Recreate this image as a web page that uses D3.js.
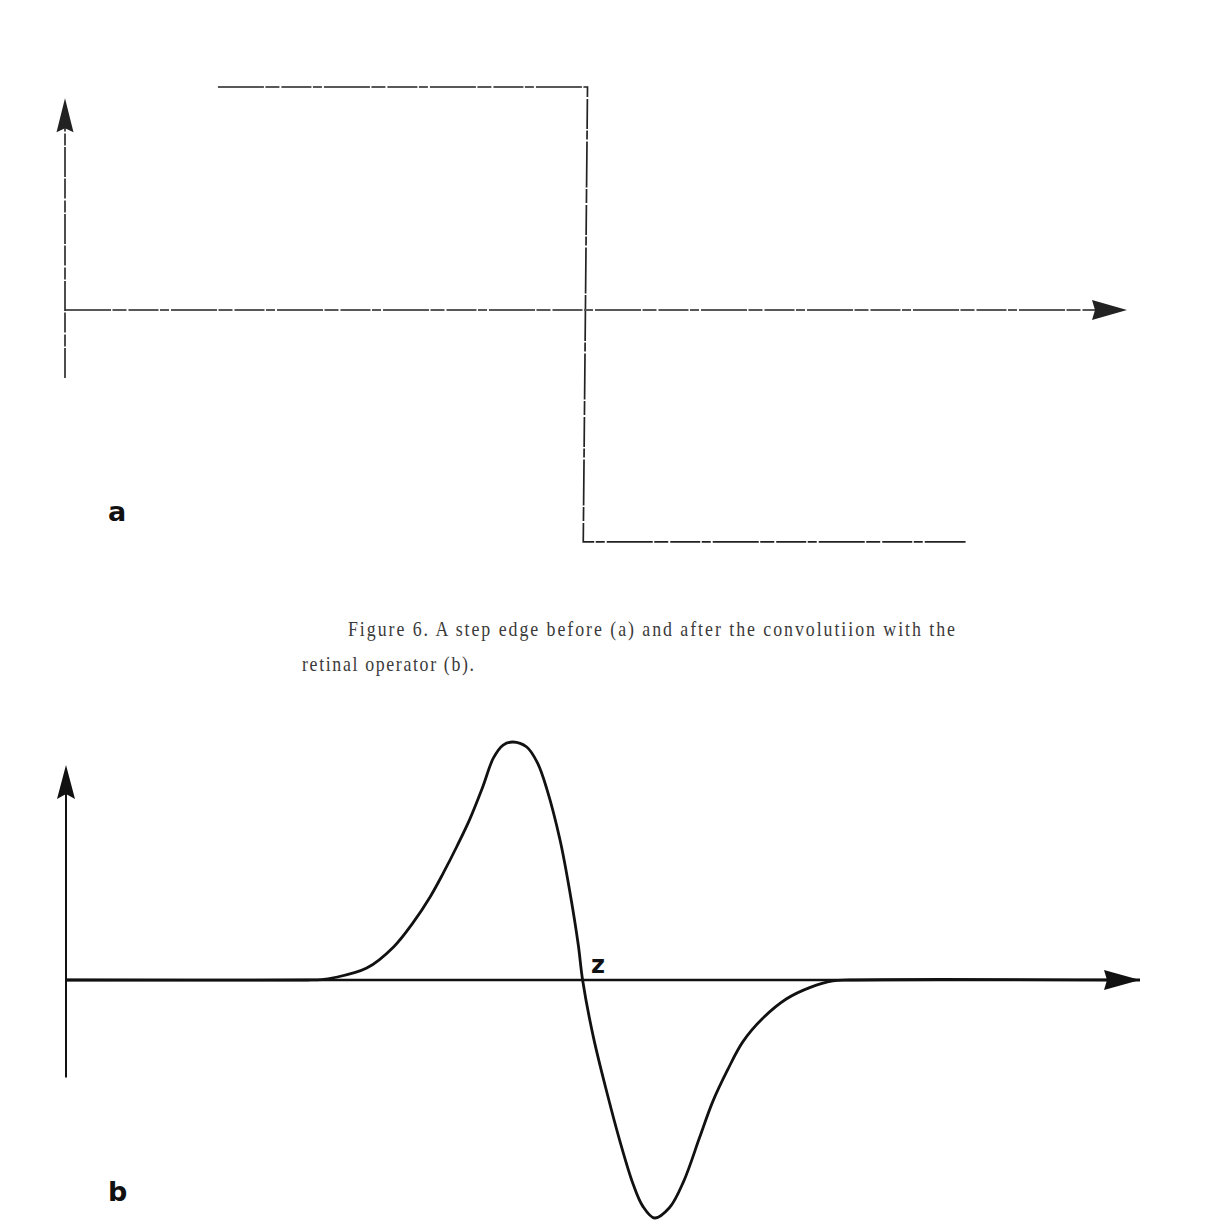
<!DOCTYPE html>
<html>
<head>
<meta charset="utf-8">
<script src="https://cdn.jsdelivr.net/npm/d3@7"></script>
<style>
  html, body { margin: 0; padding: 0; background: #fff; }
  svg { display: block; }
</style>
</head>
<body>
<div id="chart"></div>
<script>
// Panel (a): ideal step edge, described as (position, level) corners.
const stepX = [14.4, 49.2, 48.8, 84.8];
const stepY = [1.0, 1.0, -1.04, -1.04];

// Panel (b): response of the retinal operator to the step edge.
const respX = [0, 22.5, 23.8, 24.9, 28.0, 30.5, 32.3, 33.9, 35.1, 36.4, 37.6, 38.8, 39.8,
               40.7, 41.6, 42.9, 43.9, 44.8, 46.0, 46.9, 47.7, 48.1, 49.1, 50.4, 51.6,
               52.8, 53.7, 54.8, 56.2, 57.5, 59.0, 60.2, 61.6, 63.0, 64.9, 67.1, 69.3,
               71.4, 73.0, 100];
const respY = [0, 0, 0.002, 0.009, 0.05, 0.139, 0.24, 0.349, 0.447, 0.562, 0.676, 0.811, 0.933,
               0.987, 1.0, 0.979, 0.912, 0.798, 0.588, 0.374, 0.147, 0, -0.239, -0.479, -0.681,
               -0.857, -0.95, -1.0, -0.956, -0.847, -0.661, -0.513, -0.378, -0.261, -0.16,
               -0.079, -0.031, -0.004, 0, 0];

const captionLines = [
  "Figure 6. A step edge before (a) and after the convolutiion with the",
  "retinal operator (b)."
];
const panelLabels = ["a", "b"];
const zeroCrossingLabel = "z";

const W = 1229, H = 1232;
const svg = d3.select("#chart").append("svg")
  .attr("width", W).attr("height", H)
  .attr("viewBox", `0 0 ${W} ${H}`);

svg.append("rect").attr("width", W).attr("height", H).attr("fill", "#fff");

// Barbed arrowhead pointing up or right, with a shallow notch at its base
function arrowHead(g, tipX, tipY, dir, len, half, notch, color) {
  let pts;
  if (dir === "up") {
    pts = [[tipX, tipY], [tipX + half, tipY + len], [tipX, tipY + len - notch], [tipX - half, tipY + len]];
  } else {
    pts = [[tipX, tipY], [tipX - len, tipY + half], [tipX - len + notch, tipY], [tipX - len, tipY - half]];
  }
  g.append("path").attr("d", d3.line()(pts) + "Z").attr("fill", color);
}

// ---------- Panel a ----------
const ax = d3.scaleLinear().domain([0, 100]).range([65, 1127]);
const ay = d3.scaleLinear().domain([0, 1]).range([310, 87]);
const ga = svg.append("g");
const aColor = "#222";
const aDash = "46,1.5,14,2,30,1.5,9,2";

// axes
ga.append("line").attr("x1", ax(0)).attr("x2", ax(100) - 28)
  .attr("y1", ay(0)).attr("y2", ay(0))
  .attr("stroke", aColor).attr("stroke-width", 1.7).attr("stroke-dasharray", aDash);
ga.append("line").attr("x1", ax(0)).attr("x2", ax(0))
  .attr("y1", ay(-0.305)).attr("y2", ay(0.85))
  .attr("stroke", aColor).attr("stroke-width", 1.6).attr("stroke-dasharray", "30,1.5,12,2,20,1.5");
arrowHead(ga, ax(100), ay(0), "right", 35, 10, 3, aColor);
arrowHead(ga, ax(0), ay(0.95), "up", 34, 8.5, 4, aColor);

// step edge
ga.append("path")
  .datum(stepX.map((x, i) => [x, stepY[i]]))
  .attr("d", d3.line().x(d => ax(d[0])).y(d => ay(d[1])))
  .attr("fill", "none").attr("stroke", aColor).attr("stroke-width", 1.7)
  .attr("stroke-dasharray", aDash);

ga.append("text").text(panelLabels[0])
  .attr("x", 108).attr("y", 521)
  .attr("font-family", "DejaVu Sans, sans-serif").attr("font-weight", "bold")
  .attr("font-size", 27).attr("fill", "#111");

// ---------- Caption (condensed serif) ----------
const capCondense = 0.85;
const capLines = [
  { text: captionLines[0], x: 348, y: 636, width: 607 },
  { text: captionLines[1], x: 302, y: 671, width: 172 }
];
capLines.forEach(l => {
  svg.append("g")
    .attr("transform", `translate(${l.x},${l.y}) scale(${capCondense},1)`)
    .append("text").text(l.text)
    .attr("x", 0).attr("y", 0)
    .attr("font-family", "Liberation Serif, serif")
    .attr("font-size", 21).attr("fill", "#3a3a3a")
    .attr("textLength", l.width / capCondense).attr("lengthAdjust", "spacing");
});

// ---------- Panel b ----------
const bx = d3.scaleLinear().domain([0, 100]).range([66, 1140]);
const by = d3.scaleLinear().domain([-1, 1]).range([1218, 742]);
const gb = svg.append("g");
const bColor = "#111";

gb.append("line").attr("x1", bx(0)).attr("x2", bx(100) - 30)
  .attr("y1", by(0)).attr("y2", by(0))
  .attr("stroke", bColor).attr("stroke-width", 2.6);
gb.append("line").attr("x1", bx(0)).attr("x2", bx(0))
  .attr("y1", by(-0.41)).attr("y2", by(0.8))
  .attr("stroke", bColor).attr("stroke-width", 2);
arrowHead(gb, bx(100), by(0), "right", 36, 10, 3, bColor);
arrowHead(gb, bx(0), by(0.903), "up", 34, 9, 5, bColor);

gb.append("path")
  .datum(respX.map((x, i) => [x, respY[i]]))
  .attr("d", d3.line().x(d => bx(d[0])).y(d => by(d[1])).curve(d3.curveCatmullRom.alpha(0.5)))
  .attr("fill", "none").attr("stroke", bColor).attr("stroke-width", 2.8)
  .attr("stroke-linejoin", "round");

gb.append("text").text(zeroCrossingLabel)
  .attr("x", 591).attr("y", 973)
  .attr("font-family", "DejaVu Sans, sans-serif").attr("font-weight", "bold")
  .attr("font-size", 24).attr("fill", "#111");

gb.append("text").text(panelLabels[1])
  .attr("x", 108).attr("y", 1201)
  .attr("font-family", "DejaVu Sans, sans-serif").attr("font-weight", "bold")
  .attr("font-size", 27).attr("fill", "#111");
</script>
</body>
</html>
